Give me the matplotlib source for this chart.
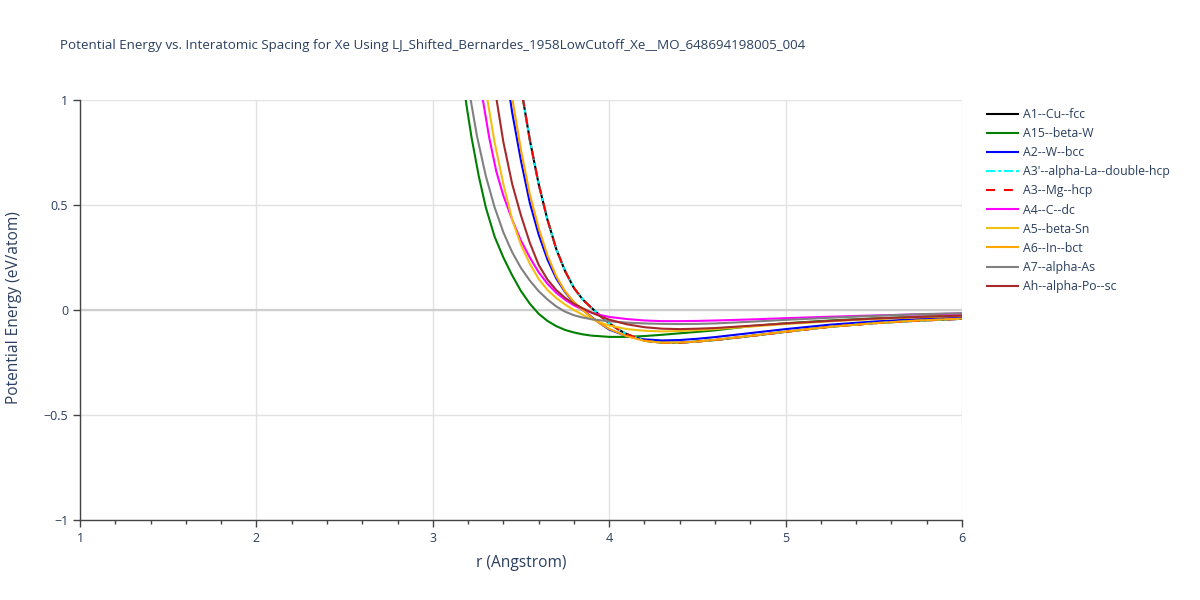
import matplotlib
matplotlib.use("Agg")
import matplotlib.pyplot as plt
from matplotlib.ticker import MultipleLocator

plt.rcParams['font.family'] = ['Open Sans', 'DejaVu Sans']

title = "Potential Energy vs. Interatomic Spacing for Xe Using LJ_Shifted_Bernardes_1958LowCutoff_Xe__MO_648694198005_004"
xlabel = "r (Angstrom)"
ylabel = "Potential Energy (eV/atom)"

xticks = [1, 2, 3, 4, 5, 6]
xtick_labels = ["1", "2", "3", "4", "5", "6"]
yticks = [-1, -0.5, 0, 0.5, 1]
ytick_labels = ["\u22121", "\u22120.5", "0", "0.5", "1"]

# ---- series (r in Angstrom, energy in eV/atom) ----
r_fcc = [3.48, 3.50, 3.55, 3.60, 3.65, 3.70, 3.75, 3.80, 3.85, 3.90, 3.95, 4.00, 4.05, 4.10,
         4.20, 4.30, 4.40, 4.50, 4.60, 4.80, 5.00, 5.25, 5.50, 5.75, 6.00]
e_fcc = [1.18, 1.06, 0.81, 0.60, 0.43, 0.29, 0.185, 0.105, 0.05, 0.01, -0.028, -0.063, -0.092, -0.115,
         -0.146, -0.156, -0.156, -0.150, -0.143, -0.124, -0.104, -0.080, -0.063, -0.051, -0.042]

r_a15 = [3.16, 3.19, 3.22, 3.26, 3.30, 3.35, 3.40, 3.45, 3.50, 3.55, 3.60, 3.65, 3.70, 3.75,
         3.80, 3.85, 3.90, 4.00, 4.10, 4.20, 4.30, 4.40, 4.50, 4.60, 4.80, 5.00, 5.25, 5.50, 5.75, 6.00]
e_a15 = [1.18, 0.98, 0.82, 0.64, 0.49, 0.35, 0.25, 0.165, 0.09, 0.03, -0.018, -0.052, -0.077, -0.095,
         -0.107, -0.116, -0.122, -0.128, -0.128, -0.124, -0.118, -0.111, -0.104, -0.097, -0.077, -0.063,
         -0.050, -0.040, -0.032, -0.026]

r_bcc = [3.40, 3.45, 3.50, 3.55, 3.60, 3.65, 3.70, 3.75, 3.80, 3.85, 3.90, 3.95, 4.00, 4.10,
         4.20, 4.30, 4.40, 4.50, 4.60, 4.80, 5.00, 5.25, 5.50, 5.75, 6.00]
e_bcc = [1.22, 0.94, 0.71, 0.51, 0.36, 0.24, 0.15, 0.085, 0.035, 0.0, -0.033, -0.065, -0.093, -0.125,
         -0.140, -0.145, -0.143, -0.137, -0.129, -0.110, -0.091, -0.070, -0.055, -0.043, -0.035]

r_dhcp = list(r_fcc)
e_dhcp = list(e_fcc)

r_hcp = list(r_fcc)
e_hcp = list(e_fcc)

r_dc = [3.25, 3.28, 3.32, 3.36, 3.40, 3.45, 3.50, 3.55, 3.60, 3.65, 3.70, 3.75, 3.80, 3.85,
        3.90, 3.95, 4.00, 4.10, 4.20, 4.30, 4.40, 4.50, 4.60, 4.80, 5.00, 5.25, 5.50, 5.75, 6.00]
e_dc = [1.20, 1.02, 0.82, 0.66, 0.545, 0.43, 0.33, 0.25, 0.18, 0.125, 0.082, 0.049, 0.022, 0.002,
        -0.013, -0.024, -0.033, -0.043, -0.050, -0.053, -0.053, -0.052, -0.050, -0.045, -0.039,
        -0.032, -0.026, -0.021, -0.017]

r_bsn = [3.28, 3.31, 3.35, 3.40, 3.45, 3.50, 3.55, 3.60, 3.65, 3.70, 3.75, 3.80, 3.85, 3.90,
         3.95, 4.00, 4.10, 4.20, 4.30, 4.40, 4.50, 4.60, 4.80, 5.00, 5.25, 5.50, 5.75, 6.00]
e_bsn = [1.18, 1.00, 0.80, 0.60, 0.43, 0.31, 0.22, 0.148, 0.095, 0.057, 0.026, 0.0, -0.023, -0.043,
         -0.06, -0.074, -0.091, -0.099, -0.102, -0.100, -0.096, -0.091, -0.079, -0.067, -0.054,
         -0.043, -0.035, -0.028]

r_bct = [3.42, 3.45, 3.50, 3.55, 3.60, 3.65, 3.70, 3.75, 3.80, 3.85, 3.90, 3.95, 4.00, 4.10,
         4.20, 4.30, 4.40, 4.50, 4.60, 4.80, 5.00, 5.25, 5.50, 5.75, 6.00]
e_bct = [1.13, 1.01, 0.76, 0.55, 0.39, 0.26, 0.16, 0.088, 0.038, 0.0, -0.035, -0.065, -0.09, -0.125,
         -0.147, -0.156, -0.155, -0.150, -0.142, -0.123, -0.103, -0.080, -0.063, -0.050, -0.041]

r_as = [3.19, 3.215, 3.25, 3.30, 3.35, 3.40, 3.45, 3.50, 3.55, 3.60, 3.65, 3.70, 3.75, 3.80,
        3.85, 3.90, 4.00, 4.10, 4.20, 4.30, 4.40, 4.50, 4.60, 4.80, 5.00, 5.25, 5.50, 5.75, 6.00]
e_as = [1.15, 1.00, 0.83, 0.64, 0.49, 0.37, 0.275, 0.20, 0.14, 0.09, 0.05, 0.017, -0.008, -0.025,
        -0.036, -0.044, -0.054, -0.060, -0.064, -0.066, -0.067, -0.066, -0.064, -0.056, -0.047,
        -0.037, -0.028, -0.020, -0.015]

r_sc = [3.33, 3.36, 3.40, 3.45, 3.50, 3.55, 3.60, 3.65, 3.70, 3.75, 3.80, 3.85, 3.90, 3.95,
        4.00, 4.10, 4.20, 4.30, 4.40, 4.50, 4.60, 4.80, 5.00, 5.25, 5.50, 5.75, 6.00]
e_sc = [1.20, 1.01, 0.80, 0.60, 0.45, 0.32, 0.215, 0.145, 0.095, 0.058, 0.03, 0.008, -0.012, -0.03,
        -0.046, -0.068, -0.082, -0.089, -0.091, -0.089, -0.086, -0.075, -0.064, -0.052, -0.041,
        -0.033, -0.027]

series = [
    ("A1--Cu--fcc", r_fcc, e_fcc, "#000000", None),
    ("A15--beta-W", r_a15, e_a15, "#008000", None),
    ("A2--W--bcc", r_bcc, e_bcc, "#0000ff", None),
    ("A3'--alpha-La--double-hcp", r_dhcp, e_dhcp, "#00ffff", (4.3, 1.45, 1.45, 1.45)),
    ("A3--Mg--hcp", r_hcp, e_hcp, "#ff0000", (4.3, 4.3)),
    ("A4--C--dc", r_dc, e_dc, "#ff00ff", None),
    ("A5--beta-Sn", r_bsn, e_bsn, "#f2c012", None),
    ("A6--In--bct", r_bct, e_bct, "#ffa500", None),
    ("A7--alpha-As", r_as, e_as, "#808080", None),
    ("Ah--alpha-Po--sc", r_sc, e_sc, "#a52a2a", None),
]

txt = "#2a3f5f"

fig = plt.figure(figsize=(12, 6), dpi=100)
ax = fig.add_axes([80/1200, 80/600, 882/1200, 420/600])

for label, rr, ee, col, dash in series:
    line, = ax.plot(rr, ee, color=col, lw=1.5, label=label, solid_capstyle='butt')
    if dash is not None:
        line.set_dashes(dash)

ax.set_xlim(1, 6)
ax.set_ylim(-1, 1)
ax.set_xticks(xticks)
ax.set_xticklabels(xtick_labels)
ax.set_yticks(yticks)
ax.set_yticklabels(ytick_labels)
ax.xaxis.set_minor_locator(MultipleLocator(0.2))

ax.grid(True, which='major', color='#e2e2e2', lw=1)
ax.set_axisbelow(True)
ax.axhline(0, color='#cfcfcf', lw=1.6, zorder=0.9)

for s in ['top', 'right']:
    ax.spines[s].set_visible(False)
for s in ['left', 'bottom']:
    ax.spines[s].set_color('#444444')
    ax.spines[s].set_linewidth(1)

ax.tick_params(axis='both', which='major', direction='out', length=5, width=1,
               color='#444444', labelcolor=txt, labelsize=9)
ax.tick_params(axis='x', which='minor', direction='out', length=3, width=1, color='#444444')
ax.tick_params(axis='x', pad=4)

fig.text(521/1200, 1 - 563/600, xlabel, ha='center', va='center', fontsize=11.2, color=txt)
fig.text(14/1200, 1 - 308/600, ylabel, ha='center', va='center', rotation=90, fontsize=11.2, color=txt)
fig.text(60/1200, 1 - 45/600, title, ha='left', va='center', fontsize=9.65, color=txt)

leg = fig.legend(loc='upper left', bbox_to_anchor=(986/1200, 1 - 108/600), frameon=False,
                 fontsize=8.8, handlelength=2.7, handletextpad=0.3, labelspacing=0.5,
                 borderaxespad=0, borderpad=0)
for t in leg.get_texts():
    t.set_color(txt)

fig.savefig("out.png", dpi=100)
